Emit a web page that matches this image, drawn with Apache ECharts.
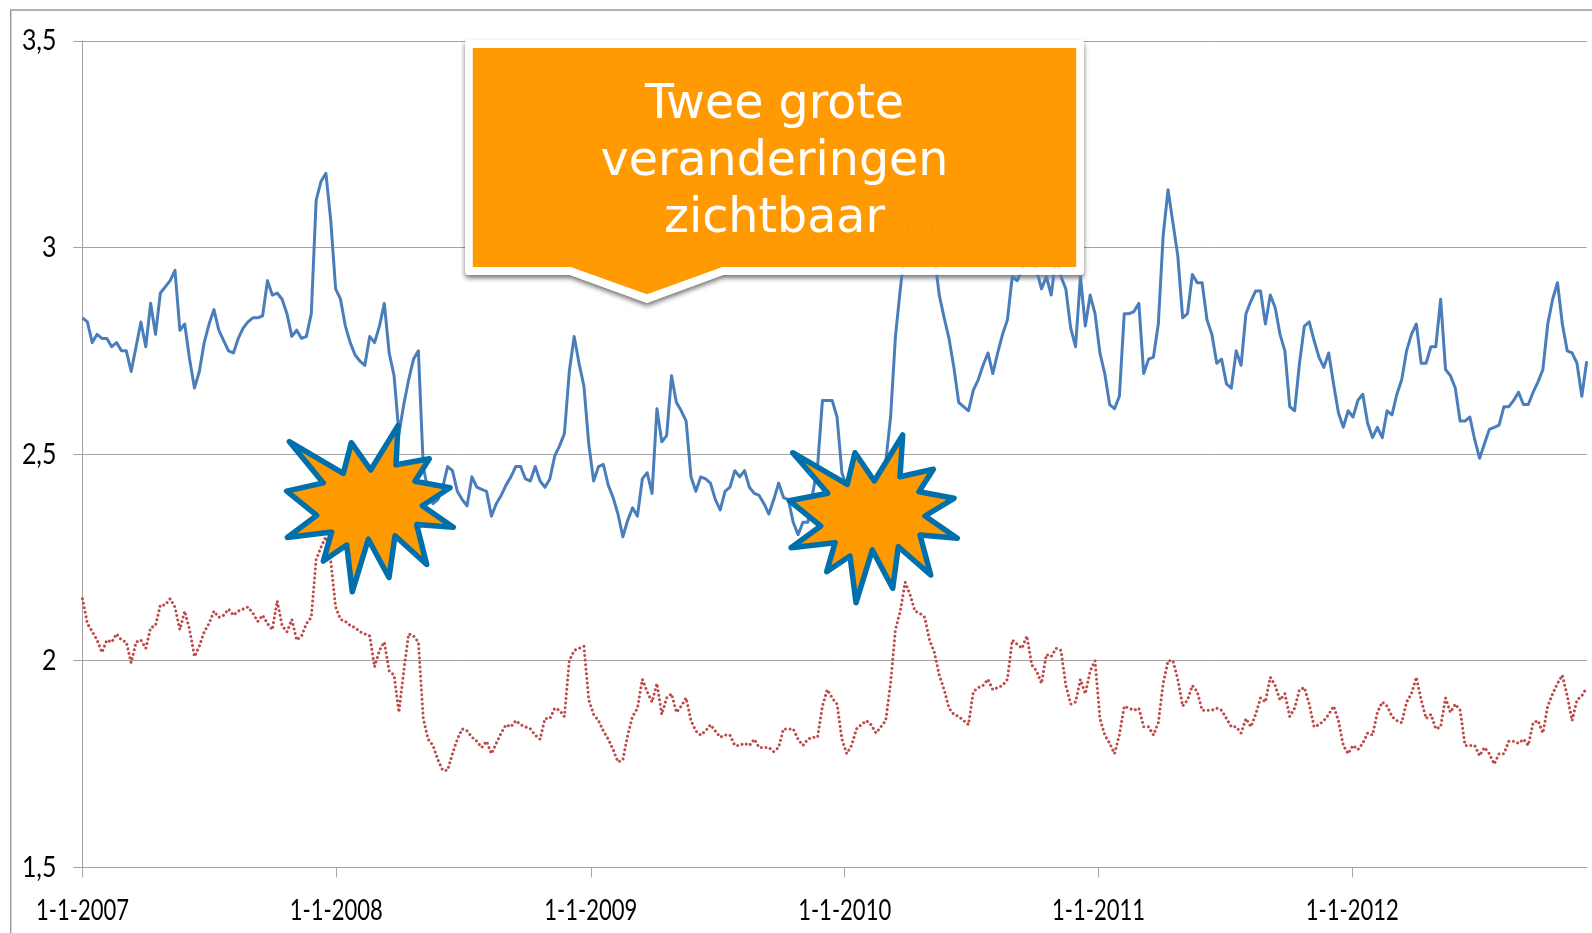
<!DOCTYPE html>
<html>
<head>
<meta charset="utf-8">
<style>html,body{margin:0;padding:0;background:#fff}#c{width:1592px;height:933px}</style>
<script src="https://cdn.jsdelivr.net/npm/echarts@6/dist/echarts.min.js"></script>
</head>
<body>
<div id="c"></div>
<script>
// Week-by-week readings, starting 1-1-2007
const blueValues = [
2.83,2.82,2.77,2.79,2.78,2.78,2.76,2.77,2.75,2.75,
2.70,2.76,2.82,2.76,2.865,2.79,2.89,2.905,2.92,2.945,
2.80,2.815,2.73,2.66,2.70,2.77,2.815,2.85,2.80,2.775,
2.75,2.745,2.78,2.805,2.82,2.83,2.83,2.835,2.92,2.885,
2.89,2.875,2.84,2.785,2.80,2.78,2.785,2.84,3.115,3.16,
3.18,3.065,2.90,2.875,2.81,2.77,2.74,2.725,2.715,2.785,
2.77,2.81,2.865,2.745,2.69,2.55,2.62,2.68,2.73,2.75,
2.47,2.41,2.38,2.39,2.42,2.47,2.46,2.41,2.39,2.375,
2.445,2.42,2.415,2.41,2.35,2.38,2.40,2.425,2.445,2.47,
2.47,2.44,2.435,2.47,2.435,2.42,2.44,2.495,2.52,2.55,
2.70,2.785,2.72,2.665,2.525,2.435,2.47,2.475,2.425,2.395,
2.355,2.30,2.34,2.37,2.35,2.44,2.455,2.405,2.61,2.53,
2.545,2.69,2.625,2.605,2.58,2.445,2.41,2.445,2.44,2.43,
2.39,2.365,2.41,2.42,2.46,2.445,2.46,2.42,2.405,2.40,
2.38,2.355,2.39,2.43,2.395,2.39,2.335,2.305,2.335,2.335,
2.405,2.47,2.63,2.63,2.63,2.59,2.455,2.42,2.38,2.36,
2.36,2.38,2.40,2.40,2.42,2.48,2.59,2.785,2.90,3.00,
3.09,3.055,3.08,3.125,3.115,2.98,2.885,2.83,2.78,2.71,
2.625,2.615,2.605,2.655,2.68,2.715,2.745,2.695,2.745,2.79,
2.825,2.93,2.92,2.945,3.02,2.97,2.945,2.90,2.93,2.885,
2.98,2.93,2.90,2.805,2.76,2.93,2.81,2.885,2.84,2.745,
2.695,2.62,2.61,2.64,2.84,2.84,2.845,2.865,2.695,2.73,
2.735,2.815,3.03,3.14,3.06,2.98,2.83,2.84,2.935,2.915,
2.915,2.825,2.79,2.72,2.73,2.67,2.66,2.75,2.715,2.84,
2.87,2.895,2.895,2.815,2.885,2.855,2.79,2.75,2.615,2.605,
2.72,2.81,2.82,2.775,2.735,2.71,2.745,2.67,2.60,
2.565,2.605,2.59,2.63,2.645,2.575,2.54,2.565,2.54,2.605,
2.595,2.645,2.68,2.75,2.79,2.815,2.72,2.72,2.76,2.76,
2.875,2.705,2.69,2.66,2.58,2.58,2.59,2.535,2.49,2.525,
2.56,2.565,2.57,2.615,2.615,2.63,2.65,2.62,2.62,2.65,
2.675,2.705,2.815,2.875,2.915,2.815,2.75,2.745,2.72,2.64,2.725
];
const redValues = [
2.15,2.09,2.07,2.05,2.02,2.05,2.045,2.065,2.05,2.045,
1.995,2.045,2.05,2.03,2.08,2.085,2.135,2.135,2.15,2.13,
2.075,2.12,2.075,2.01,2.035,2.07,2.09,2.12,2.105,2.11,
2.125,2.11,2.12,2.125,2.13,2.115,2.095,2.11,2.09,2.075,
2.145,2.085,2.07,2.10,2.05,2.06,2.09,2.105,2.245,2.275,
2.30,2.24,2.13,2.10,2.095,2.085,2.08,2.07,2.065,2.06,
1.985,2.025,2.045,1.975,1.965,1.875,1.975,2.065,2.06,2.045,
1.86,1.81,1.795,1.76,1.735,1.735,1.775,1.81,1.835,1.83,
1.815,1.805,1.79,1.805,1.775,1.80,1.825,1.845,1.84,1.855,
1.845,1.84,1.835,1.82,1.81,1.86,1.86,1.885,1.88,1.865,
2.00,2.025,2.03,2.035,1.905,1.87,1.855,1.83,1.81,1.785,
1.755,1.76,1.82,1.865,1.885,1.955,1.925,1.90,1.945,1.87,
1.91,1.92,1.875,1.89,1.91,1.855,1.83,1.82,1.83,1.845,
1.83,1.815,1.82,1.82,1.795,1.795,1.80,1.795,1.81,1.79,
1.79,1.79,1.78,1.79,1.835,1.835,1.835,1.81,1.795,1.81,
1.815,1.815,1.89,1.93,1.91,1.895,1.81,1.775,1.795,1.835,
1.845,1.855,1.845,1.825,1.84,1.855,1.945,2.075,2.12,2.19,
2.16,2.12,2.115,2.105,2.05,2.02,1.965,1.93,1.885,1.87,
1.865,1.855,1.845,1.925,1.935,1.94,1.955,1.93,1.935,1.94,
1.955,2.05,2.04,2.03,2.06,1.99,1.975,1.945,2.015,2.01,
2.03,2.025,1.94,1.895,1.90,1.955,1.92,1.975,2.00,1.86,
1.82,1.80,1.775,1.82,1.89,1.885,1.88,1.885,1.84,1.84,
1.82,1.85,1.945,2.00,2.00,1.955,1.89,1.905,1.94,1.925,
1.88,1.88,1.88,1.885,1.88,1.86,1.84,1.84,1.825,1.86,
1.84,1.87,1.91,1.90,1.96,1.94,1.905,1.92,1.865,1.885,
1.93,1.935,1.895,1.84,1.845,1.855,1.87,1.89,1.855,1.795,
1.775,1.795,1.785,1.80,1.825,1.82,1.875,1.90,1.89,1.865,
1.855,1.85,1.90,1.92,1.96,1.905,1.86,1.87,1.835,1.84,
1.91,1.875,1.895,1.88,1.795,1.795,1.795,1.77,1.79,1.775,
1.75,1.775,1.775,1.805,1.805,1.80,1.81,1.795,1.85,1.855,
1.825,1.89,1.92,1.945,1.965,1.915,1.855,1.905,1.915,1.935
];
const tickYears = [2007,2008,2009,2010,2011,2012];
const yTicks = [1.5,2,2.5,3,3.5];
const calloutLines = ['Twee grote','veranderingen','zichtbaar'];

const DAY = 86400000;
const startTime = Date.UTC(2007,0,1);
const weekTime = i => startTime + i*7*DAY;
const tickTimes = tickYears.map(y => Date.UTC(y,0,1));
const pairs = vals => vals.map((v,i) => [weekTime(i), v]);

const starA = [[289.3,441.6],[343.3,473.4],[351.3,442.7],[370.7,470],[398,425.6],[396,464.8],[429.3,458.7],[415,481.2],[450,487.7],[422.3,505.8],[453.3,527.3],[416.7,524.6],[426.7,564.5],[395,535.8],[389,577.5],[368.3,539.2],[352.3,591.8],[346.7,545],[323.3,561.1],[331.7,532.1],[287.3,537.5],[316.7,515.4],[286.7,491.1],[323.3,482.9]];
const starB = [[792.7,452.7],[847.3,484.3],[855,452.7],[874.3,481],[902.7,435],[900,476.7],[933.3,469.3],[919,491.7],[954,498.3],[925,516],[957.3,538.3],[920,535],[930.7,575],[898.3,546.7],[892.7,588.3],[872.3,550],[856,602.7],[850,556],[826.7,571.7],[835,542.7],[791,547.7],[820.7,526],[789.3,500.7],[827.7,493.3]];
const starShape = pts => ({type:'polygon',z:110,shape:{points:pts},style:{fill:'#FF9900',stroke:'#0070AC',lineWidth:5.5,lineJoin:'round'}});

const chart = echarts.init(document.getElementById('c'),null,{renderer:'canvas'});
const axisFont = {fontFamily:'Lato,"Liberation Sans",sans-serif',fontSize:29,color:'#000'};
const gridColor = '#a3a3a3';
const formatDate = v => {const d=new Date(v);return d.getUTCDate()+'-'+(d.getUTCMonth()+1)+'-'+d.getUTCFullYear();};
const formatNum = v => String(v).replace('.',',');
chart.setOption({
  animation:false,
  backgroundColor:'#fff',
  grid:{left:82.5,right:5.3,top:41,bottom:65.7,containLabel:false},
  xAxis:{
    type:'value',min:startTime,max:weekTime(blueValues.length-1),
    splitLine:{show:false},
    axisLine:{lineStyle:{color:gridColor,width:1}},
    axisTick:{show:true,length:10,customValues:tickTimes,lineStyle:{color:gridColor,width:1}},
    axisLabel:Object.assign({},axisFont,{margin:29,customValues:tickTimes,hideOverlap:false,showMinLabel:true,formatter:formatDate})
  },
  yAxis:{
    type:'value',min:1.5,max:3.5,interval:0.5,
    axisLine:{show:true,lineStyle:{color:gridColor,width:1}},
    axisTick:{show:true,length:9,lineStyle:{color:gridColor,width:1}},
    splitLine:{show:true,lineStyle:{color:gridColor,width:1}},
    axisLabel:Object.assign({},axisFont,{margin:26,formatter:formatNum})
  },
  series:[
    {type:'line',data:pairs(blueValues),showSymbol:false,symbol:'none',
     lineStyle:{color:'#4A7EBB',width:3,join:'round'},z:3},
    {type:'line',data:pairs(redValues),showSymbol:false,symbol:'none',
     lineStyle:{color:'#BE4B48',width:3,type:[0.01,4.6],cap:'round'},z:3}
  ],
  graphic:[
    {type:'polyline',z:90,shape:{points:[[10.7,933],[10.7,10],[1592,10]]},style:{stroke:'#999',lineWidth:1.4,fill:null}},
    // white plate and its shadow, under the lines
    {type:'polygon',z:2,
     shape:{points:[[467,40],[1082,40],[1084,42],[1084,273],[1082,275],[723,275],[647,303],[570,275],[467,275],[465,273],[465,42]]},
     style:{fill:'#fff',shadowBlur:5,shadowOffsetY:3,shadowColor:'rgba(0,0,0,0.55)'}},
    // almost opaque orange face, lets the lines ghost through faintly
    {type:'polygon',z:100,
     shape:{points:[[472.5,48],[1076.5,48],[1076.5,267],[722.7,267],[647,294.3],[570.4,267],[472.5,267]]},
     style:{fill:'#FF9900',opacity:0.988}},
    // white border over the lines
    {type:'polygon',z:101,
     shape:{points:[[468.8,44],[1080.2,44],[1080.2,271],[723,271],[647,299],[570,271],[468.8,271]]},
     style:{fill:'none',stroke:'#fff',lineWidth:7.5,lineJoin:'round'}},
    ...calloutLines.map((t,i)=>({type:'text',z:102,x:774.5,y:105.5+57*i,
      style:{text:t,fill:'#fff',font:'47.5px "DejaVu Sans"',textAlign:'center',textVerticalAlign:'middle'}})),
    starShape(starA),
    starShape(starB)
  ]
});

// The reference's tick labels are a narrow face; Lato is squeezed horizontally to match.
const dateLabels = new Set(tickTimes.map(formatDate));
const numLabels = new Set(yTicks.map(formatNum));
const squeeze = el => {
  if (el.style && typeof el.style.text === 'string') {
    const s = dateLabels.has(el.style.text) ? 0.76 : numLabels.has(el.style.text) ? 0.86 : 0;
    if (s) { el.scaleX = s; el.originX = 0; el.markRedraw(); }
  }
};
chart.getZr().storage.getRoots().forEach(r => { r.traverse ? r.traverse(squeeze) : squeeze(r); });
chart.getZr().refresh();
</script>
</body>
</html>
